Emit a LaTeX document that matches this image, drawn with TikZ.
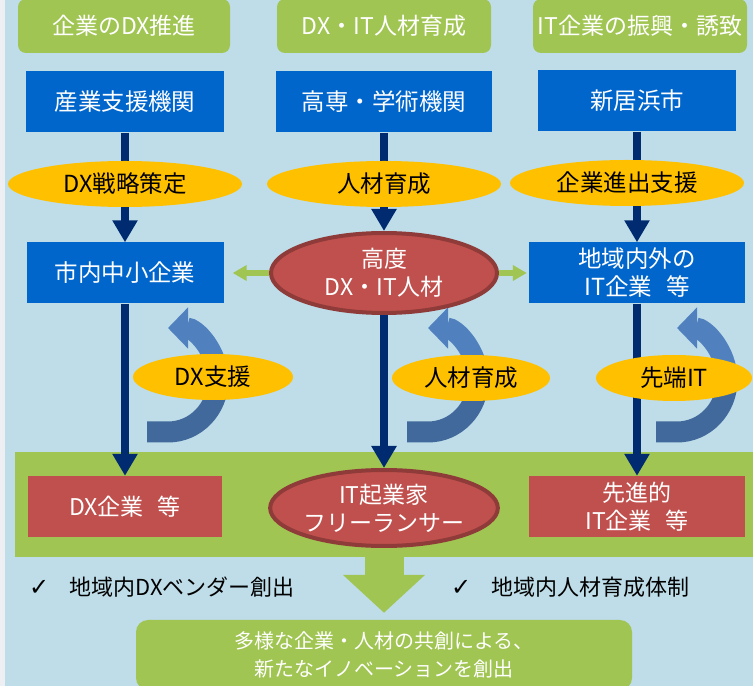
\documentclass[tikz,border=0pt]{standalone}
\usepackage{fontspec}
\setmainfont{Noto Sans CJK JP}
\newfontfamily\checkfont{DejaVu Sans}
\usetikzlibrary{shapes,arrows.meta,positioning,calc}

\definecolor{bgblue}{HTML}{BEDDE9}
\definecolor{edgegrey}{HTML}{EDEFF2}
\definecolor{leafgreen}{HTML}{A0C552}
\definecolor{boxblue}{HTML}{0066CC}
\definecolor{gold}{HTML}{FFC000}
\definecolor{brick}{HTML}{C0504D}
\definecolor{brickdark}{HTML}{8E3B39}
\definecolor{navy}{HTML}{002B70}
\definecolor{steel}{HTML}{5080BE}
\definecolor{steeldark}{HTML}{41699C}

\pgfdeclarelayer{bg}
\pgfdeclarelayer{back}
\pgfsetlayers{bg,back,main}

\begin{document}
\begin{tikzpicture}[x=1pt, y=1pt,
  head/.style={fill=leafgreen, rounded corners=8pt, text=white, minimum width=212pt, minimum height=54pt, font=\fontsize{23}{28}\selectfont},
  actor/.style={fill=boxblue, text=white, align=center, minimum height=61pt, font=\fontsize{23.5}{28}\selectfont},
  role/.style={ellipse, fill=gold, text=black, inner sep=0pt, minimum width=234pt, minimum height=46pt, font=\fontsize{23.5}{28}\selectfont},
  talent/.style={ellipse, fill=brick, draw=brickdark, line width=4pt, text=white, align=center, inner sep=0pt, minimum width=226pt, font=\fontsize{23}{28}\selectfont},
  result/.style={fill=brick, text=white, align=center, minimum height=61pt, font=\fontsize{23}{28}\selectfont},
  flow/.style={navy, line width=8pt, -{Triangle[width=24pt,length=22pt]}},
  link/.style={leafgreen, line width=6pt, -{Triangle[width=15pt,length=14pt]}},
  turn/.style={steel, line width=21pt, -{Triangle[width=40pt,length=20pt]}},
  check/.style={anchor=west, inner sep=0pt, font=\fontsize{22}{26}\selectfont},
]
\useasboundingbox (0,0) rectangle (753,686);
\clip (0,0) rectangle (753,686);

% 背景
\begin{pgfonlayer}{bg}
\fill[edgegrey] (0,0) rectangle (5,686);
\fill[bgblue] (5,0) rectangle (753,686);
\end{pgfonlayer}

% 見出し
\node[head] (hdx) at (124,660) {企業のDX推進};
\node[head, minimum width=214pt] (hhr) at (384,660) {DX・IT人材育成};
\node[head, minimum width=214pt] (hit) at (640,660) {IT企業の振興・誘致};

% 支援する側
\node[actor, minimum width=198pt] (sien) at (125,584) {産業支援機関};
\node[actor, minimum width=216pt] (kosen) at (384,584) {高専・学術機関};
\node[actor, minimum width=198pt] (city) at (637,585) {新居浜市};

\node[role] (strat) at (125,502) {DX戦略策定};
\node[role] (edu) at (384,502) {人材育成};
\node[role] (invite) at (627,503) {企業進出支援};

% 中段
\node[actor, minimum width=197pt] (sme) at (125,413) {市内中小企業};
\node[talent, minimum height=80pt] (talent) at (384,413) {高度\\DX・IT人材};
\node[actor, minimum width=216pt] (itco) at (637,413) {地域内外の\\IT企業\hspace{.6em}等};

\node[role, minimum width=160pt] (dxhelp) at (213,309) {DX支援};
\node[role, minimum width=158pt] (train) at (471,308) {人材育成};
\node[role, minimum width=156pt] (tech) at (674,308) {先端IT};

% 下段
\begin{pgfonlayer}{bg}
\node[fill=leafgreen, inner sep=0pt, minimum width=738pt, minimum height=105pt] (band) at (384,181.5) {};
\end{pgfonlayer}
\node[result, minimum width=194pt] (dxfirm) at (125,179.5) {DX企業\hspace{.6em}等};
\node[talent, minimum height=76pt] (founder) at (384,178) {IT起業家\\フリーランサー};
\node[result, minimum width=216pt] (advanced) at (637,179.5) {先進的\\IT企業\hspace{.6em}等};

\node[check] (chk1) at (29,99) {{\checkfont\fontsize{24}{24}\selectfont ✓}\hspace{20pt}地域内DXベンダー創出};
\node[check] (chk2) at (451,99) {{\checkfont\fontsize{24}{24}\selectfont ✓}\hspace{20pt}地域内人材育成体制};

\node[fill=leafgreen, rounded corners=12pt, text=white, align=center, minimum width=496pt, minimum height=70pt, font=\fontsize{20}{28}\selectfont] (goal) at (384,31) {多様な企業・人材の共創による、\\新たなイノベーションを創出};

% 矢印
\begin{pgfonlayer}{back}
\draw[flow] (sien) -- (sme);
\draw[flow] (kosen) -- (talent);
\draw[flow] (city) -- (itco);
\draw[flow] (sme) -- (dxfirm);
\draw[flow] (talent) -- (founder);
\draw[flow] (itco) -- (advanced);

\draw[link, shorten >=9pt] (talent) -- (sme);
\draw[link, shorten >=2pt] (talent) -- (itco);

\draw[turn, steeldark, -] (147,254) -- (168,254) arc[start angle=-90, end angle=0, x radius=50, y radius=52];
\draw[turn] (218,306) arc[start angle=0, end angle=90, x radius=50, y radius=52];
\draw[turn, steeldark, -] (407,254) -- (428,254) arc[start angle=-90, end angle=0, x radius=50, y radius=52];
\draw[turn] (478,306) arc[start angle=0, end angle=90, x radius=50, y radius=52];
\draw[turn, steeldark, -] (656,254) -- (677,254) arc[start angle=-90, end angle=0, x radius=50, y radius=52];
\draw[turn] (727,306) arc[start angle=0, end angle=90, x radius=50, y radius=52];

\draw[leafgreen, line width=39pt, -{Triangle[width=80pt,length=38pt]}, shorten >=7pt] (band.south) -- (goal.north);
\end{pgfonlayer}
\end{tikzpicture}
\end{document}
